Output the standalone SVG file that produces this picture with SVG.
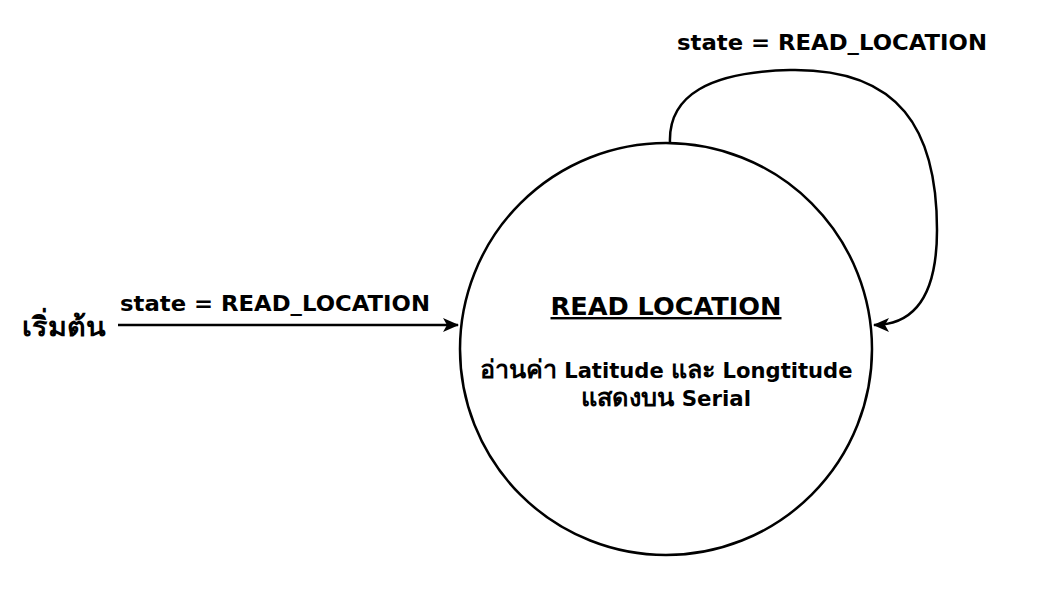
<svg xmlns="http://www.w3.org/2000/svg" width="1056" height="600" viewBox="0 0 1056 600">
<style>
text{font-family:"DejaVu Sans","Noto Sans",sans-serif;font-weight:bold;fill:#000}
.lbl{font-size:22px}
.th{font-size:27px}
.title{font-size:24px;text-decoration:underline}
.body{font-size:21px}
.thb{font-size:25px}
.edge{fill:none;stroke:#000;stroke-width:2.5}
</style>
<defs>
<marker id="arr" viewBox="0 0 16 14" refX="15" refY="7" markerWidth="16" markerHeight="14" markerUnits="userSpaceOnUse" orient="auto">
<path d="M0,0 L16,7 L0,14 L4,7 Z" fill="#000"/>
</marker>
</defs>
<rect width="1056" height="600" fill="#fff"/>
<g id="connectors">
<path class="edge" d="M118,325 L458,325" marker-end="url(#arr)"/>
<path class="edge" d="M670,143 C668,95 710,72 790,70 C900,68 937,130 937,230 C937,295 915,325 874,325" marker-end="url(#arr)"/>
</g>
<g id="start">
<text class="th" x="22" y="336" textLength="83" lengthAdjust="spacingAndGlyphs">เริ่มต้น</text>
</g>
<g id="label-start">
<text class="lbl" x="120" y="311" textLength="310" lengthAdjust="spacingAndGlyphs">state = READ_LOCATION</text>
</g>
<g id="label-loop">
<text class="lbl" x="677" y="50" textLength="310" lengthAdjust="spacingAndGlyphs">state = READ_LOCATION</text>
</g>
<g id="read-location">
<circle cx="666" cy="349" r="206" fill="#fff" stroke="#000" stroke-width="2.5"/>
<text class="title" x="666" y="315" text-anchor="middle" textLength="231" lengthAdjust="spacingAndGlyphs">READ LOCATION</text>
<text class="body" x="666" y="378" text-anchor="middle" textLength="373" lengthAdjust="spacingAndGlyphs"><tspan class="thb">อ่านค่า</tspan> Latitude <tspan class="thb">และ</tspan> Longtitude</text>
<text class="body" x="666" y="406" text-anchor="middle" textLength="170" lengthAdjust="spacingAndGlyphs"><tspan class="thb">แสดงบน</tspan> Serial</text>
</g>
</svg>
